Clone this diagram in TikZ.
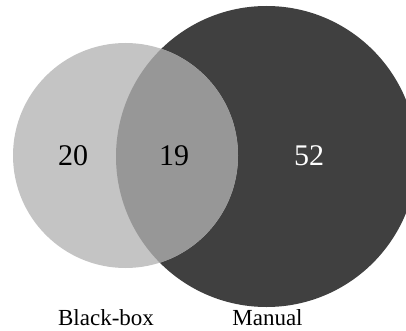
\documentclass[tikz,border=0pt]{standalone}
\usepackage{fontspec}
\setmainfont{Liberation Serif}
\usepackage{xcolor}
\definecolor{lightset}{HTML}{C4C4C4}
\definecolor{bothset}{HTML}{979797}
\definecolor{darkset}{HTML}{404040}

\begin{document}
\begin{tikzpicture}[%
    x=1pt,
    y=1pt,
    count/.style={%
      anchor=base,
      inner sep=0pt,
      font=\fontsize{30}{36}\selectfont
    },
    setname/.style={%
      anchor=base,
      inner sep=0pt,
      font=\fontsize{23}{27}\selectfont
    }
  ]
    \useasboundingbox (0,0) rectangle (406,330);
    \clip (0,0) rectangle (406,330);

    % the two sets
    \fill[darkset]  (266.5,173.5) circle (150.5);
    \fill[lightset] (125.5,174.5) circle (112.5);
    \begin{scope}
      \clip (266.5,173.5) circle (150.5);
      \fill[bothset] (125.5,174.5) circle (112.5);
    \end{scope}

    \node[count] (only bb)  at (73,165)    {20};
    \node[count] (both)     at (174,165)   {19};
    \node[count,white] (only man) at (309,165) {52};

    \node[setname] (bb)  at (106,5)   {Black-box};
    \node[setname] (man) at (267.5,5) {Manual};
  \end{tikzpicture}
\end{document}
